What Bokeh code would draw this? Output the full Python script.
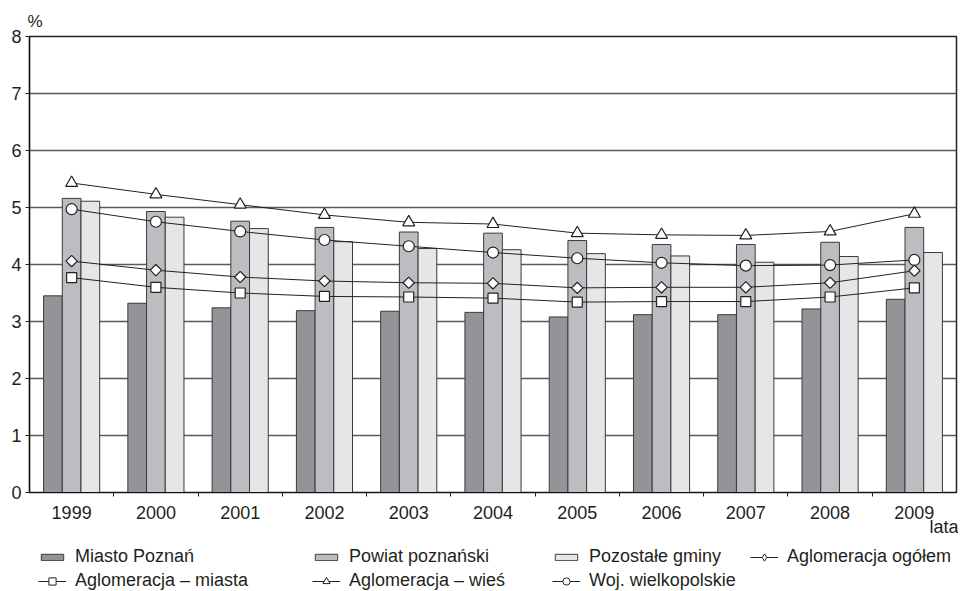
import numpy as np
from bokeh.plotting import figure
from bokeh.layouts import column
from bokeh.models import (ColumnDataSource, Legend, LegendItem, Range1d, Title,
                          FixedTicker, NumeralTickFormatter)
from bokeh.transform import dodge
from bokeh.embed import file_html
from bokeh.resources import INLINE

# ---- data -------------------------------------------------------------
years = [1999, 2000, 2001, 2002, 2003, 2004, 2005, 2006, 2007, 2008, 2009]
miasto_poznan = [3.45, 3.32, 3.24, 3.19, 3.18, 3.16, 3.08, 3.12, 3.12, 3.22, 3.39]
powiat_poznanski = [5.16, 4.93, 4.76, 4.65, 4.57, 4.55, 4.42, 4.35, 4.35, 4.39, 4.65]
pozostale_gminy = [5.11, 4.83, 4.63, 4.40, 4.28, 4.26, 4.19, 4.15, 4.04, 4.14, 4.21]
aglo_ogolem = [4.06, 3.90, 3.78, 3.71, 3.68, 3.67, 3.59, 3.60, 3.60, 3.68, 3.89]
aglo_miasta = [3.77, 3.60, 3.50, 3.44, 3.43, 3.41, 3.34, 3.35, 3.35, 3.43, 3.59]
aglo_wies = [5.43, 5.23, 5.05, 4.87, 4.74, 4.71, 4.55, 4.52, 4.51, 4.58, 4.89]
woj_wielkopolskie = [4.97, 4.75, 4.58, 4.43, 4.32, 4.21, 4.11, 4.03, 3.98, 3.99, 4.08]
y_ticks = [0, 1, 2, 3, 4, 5, 6, 7, 8]

FONT = "Liberation Sans"
TXT = "#231f20"
FS = "18px"
W = 958

src = ColumnDataSource(dict(x=years, mp=miasto_poznan, pp=powiat_poznanski,
                            pg=pozostale_gminy, og=aglo_ogolem, mi=aglo_miasta,
                            wi=aglo_wies, wo=woj_wielkopolskie))

p = figure(width=W, height=540, output_backend="svg", toolbar_location=None,
           x_range=Range1d(years[0] - 0.5, years[-1] + 0.5), y_range=Range1d(0, 8),
           min_border_left=29, min_border_right=2, min_border_top=36,
           min_border_bottom=48, title="%")
p.background_fill_color = "white"
p.border_fill_color = "white"
p.outline_line_color = "#222222"
p.outline_line_width = 1.5

p.title.align = "left"
p.title.offset = -2
p.title.standoff = 11
p.title.text_font = FONT
p.title.text_font_size = "17px"
p.title.text_font_style = "normal"
p.title.text_color = TXT

# grid
p.xgrid.grid_line_color = None
p.ygrid.grid_line_color = "#5a5a5a"
p.ygrid.grid_line_width = 1.3
p.ygrid.ticker = FixedTicker(ticks=y_ticks)

# bars
bw = 0.222
bar_line = "#3a3a3a"
bar_fills = ["#939498", "#bcbdc1", "#e5e6e8"]
bar_cols = ["mp", "pp", "pg"]
for i, (col, fc) in enumerate(zip(bar_cols, bar_fills)):
    p.vbar(x=dodge("x", (i - 1) * bw, range=p.x_range), top=col, width=bw,
           source=src, fill_color=fc, line_color=bar_line, line_width=1)

LC = "#222222"
# column, marker, size, angle, legend marker
series = [("wi", "triangle", 12, 0.0, "triangle"), ("wo", "circle", 11, 0.0, "circle"),
          ("og", "square", 8, np.pi / 4, "diamond"), ("mi", "square", 10, 0.0, "square")]
for col, mk, sz, ang, _ in series:
    p.line("x", col, source=src, line_color=LC, line_width=1)
    p.scatter("x", col, source=src, marker=mk, size=sz, angle=ang,
              fill_color="white", line_color=LC, line_width=1.2)

# axes
xa = p.xaxis[0]
xa.ticker = FixedTicker(ticks=years, minor_ticks=[y + 0.5 for y in years[:-1]])
xa.formatter = NumeralTickFormatter(format="0")
xa.major_tick_line_color = None
xa.major_tick_out = 0
xa.major_tick_in = 0
xa.minor_tick_out = 4
xa.minor_tick_in = 0
xa.minor_tick_line_color = "#222222"
xa.axis_line_color = "#111111"
xa.axis_line_width = 1.2
xa.major_label_standoff = 9
xa.major_label_text_font = FONT
xa.major_label_text_font_size = FS
xa.major_label_text_color = TXT

ya = p.yaxis[0]
ya.ticker = FixedTicker(ticks=y_ticks)
ya.major_tick_out = 4
ya.major_tick_in = 0
ya.minor_tick_line_color = None
ya.axis_line_color = "#111111"
ya.axis_line_width = 1.2
ya.major_tick_line_color = "#222222"
ya.major_label_standoff = 4
ya.major_label_text_font = FONT
ya.major_label_text_font_size = FS
ya.major_label_text_color = TXT

# unit of the x axis, right-aligned under the axis
p.add_layout(Title(text="lata", align="right", offset=-2, standoff=-14,
                   text_font=FONT, text_font_size=FS, text_font_style="normal",
                   text_color=TXT), "below")

# ---- legend strip below the chart --------------------------------------
lf = figure(width=W, height=51, output_backend="svg", toolbar_location=None,
            x_range=Range1d(years[0] - 0.5, years[-1] + 0.5), y_range=Range1d(0, 8),
            x_axis_location=None, y_axis_location=None, min_border=0)
lf.outline_line_color = None
lf.grid.visible = False

# legend-only renderers (hidden in the strip, shown as legend glyphs)
lbars = [lf.vbar(x="x", top=col, width=bw, source=src, fill_color=fc,
                 line_color=bar_line, line_width=1, visible=False)
         for col, fc in zip(bar_cols, bar_fills)]
lmarks = {}
for col, mk, sz, ang, lmk in series:
    ln = lf.line("x", col, source=src, line_color=LC, line_width=1, visible=False)
    sc = lf.scatter("x", col, source=src, marker=lmk, size=sz,
                    fill_color="white", line_color=LC, line_width=1, visible=False)
    lmarks[col] = [ln, sc]


def make_legend(label, renderers, x, y, gh):
    lg = Legend(items=[LegendItem(label=label, renderers=renderers)],
                location=(x, y), orientation="vertical",
                glyph_width=28, glyph_height=gh, label_standoff=9, spacing=0,
                padding=0, margin=0, border_line_color=None,
                background_fill_alpha=0, label_height=20,
                label_text_font=FONT, label_text_font_size=FS,
                label_text_color=TXT)
    lf.add_layout(lg, "center")


ROW1, ROW2 = 24, 0
make_legend("Miasto Poznań", [lbars[0]], 9, ROW1, 8)
make_legend("Powiat poznański", [lbars[1]], 283, ROW1, 8)
make_legend("Pozostałe gminy", [lbars[2]], 523, ROW1, 8)
make_legend("Aglomeracja ogółem", lmarks["og"], 721, ROW1, 18)
make_legend("Aglomeracja – miasta", lmarks["mi"], 9, ROW2, 18)
make_legend("Aglomeracja – wieś", lmarks["wi"], 283, ROW2, 18)
make_legend("Woj. wielkopolskie", lmarks["wo"], 523, ROW2, 18)

layout = column(p, lf, spacing=0)
open("out.html", "w").write(file_html(layout, INLINE))
